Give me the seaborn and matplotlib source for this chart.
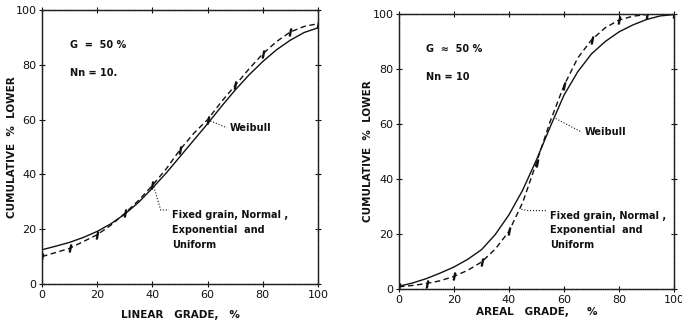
import matplotlib
matplotlib.use("Agg")
import matplotlib.pyplot as plt
import seaborn as sns
import pandas as pd

sns.set_theme(style="white")
plt.rcParams['font.family'] = ['DejaVu Sans']

# ---- data: left panel (linear grade) ----
grade5 = [0, 5, 10, 15, 20, 25, 30, 35, 40, 45, 50, 55, 60, 65, 70, 75, 80, 85, 90, 95, 100]
lin_weibull = [12.5, 13.8, 15.2, 17, 19.2, 22, 25.5, 29.8, 35, 40.5, 46.5, 52.5, 58.5, 64.8, 70.8, 76.3, 81.2, 85.5, 89, 91.8, 93.5]
lin_fixed = [10, 11.5, 13, 15.5, 18, 21.5, 25.8, 30.5, 36, 42, 49, 55, 60, 66.5, 72.5, 78.5, 84, 88.5, 92, 94, 95]
# ---- data: right panel (areal grade) ----
areal_weibull = [1, 2.2, 3.8, 5.8, 8, 10.8, 14.3, 19.8, 27, 36, 47, 59, 70.5, 79, 85.5, 90, 93.5, 96, 98, 99.3, 99.8]
areal_fixed = [0.8, 1.3, 2, 3, 4.6, 6.8, 9.8, 14.5, 21, 31.5, 46, 61, 74, 84, 90.6, 95, 97.8, 99.2, 99.8, 100, 100]

ticks = [0, 20, 40, 60, 80, 100]
tick_labels = ["0", "20", "40", "60", "80", "100"]

fig = plt.figure(figsize=(6.82, 3.30), dpi=100)
axL = fig.add_axes([42/682, 46/330, 276/682, 274/330])
axR = fig.add_axes([399/682, 41/330, 275/682, 275/330])

txt = dict(fontsize=7, fontweight='bold', color='#111111')

def panel(ax, weib, fixed, xlabel, xlab_y, ylab_x, g_text, nn_text, weib_ptr, weib_txt, fix_ptr, fix_txt):
    df = pd.DataFrame({'x': grade5, 'w': weib, 'f': fixed})
    sns.lineplot(data=df, x='x', y='w', ax=ax, color='#111111', lw=1.0)
    sns.lineplot(data=df, x='x', y='f', ax=ax, color='#111111', lw=1.0, dashes=False,
                 linestyle=(0, (4, 2.5)))
    dm = df.iloc[::2]
    ax.plot(dm['x'], dm['f'], linestyle='none', marker='$I$', markersize=5, color='#111111')
    ax.set_xlim(0, 100)
    ax.set_ylim(0, 100)
    ax.set_xticks(ticks)
    ax.set_xticklabels(tick_labels)
    ax.set_yticks(ticks)
    ax.set_yticklabels(tick_labels)
    ax.tick_params(direction='inout', length=4, width=0.8, labelsize=8, pad=2,
                   top=True, right=True, bottom=True, left=True, colors='#111111')
    for s in ax.spines.values():
        s.set_color('#222222')
        s.set_linewidth(1.0)
        s.set_linestyle((0, (1, 0.6)))
    ax.set_xlabel(xlabel, fontsize=7.5, fontweight='bold', color='#111111')
    ax.set_ylabel("CUMULATIVE  %  LOWER", fontsize=7.5, fontweight='bold', color='#111111')
    ax.xaxis.set_label_coords(0.5, xlab_y)
    ax.yaxis.set_label_coords(ylab_x, 0.5)
    ax.text(10, 86, g_text, **txt)
    ax.text(10, 76, nn_text, **txt)
    # Weibull label with dotted leader
    ax.plot([weib_ptr[0], weib_txt[0] - 1], [weib_ptr[1], weib_txt[1]], ls=':', lw=0.8, color='#111111')
    ax.text(weib_txt[0], weib_txt[1], "Weibull", va='center', **txt)
    # Fixed grain label with leader
    fx, fy = fix_ptr
    tx, ty = fix_txt
    ax.plot([fx, fx + 2.5, tx - 1], [fy, ty, ty], ls=':', lw=0.8, color='#111111')
    ax.text(tx, ty, "Fixed grain, Normal ,\nExponential  and\nUniform", va='top',
            linespacing=1.6, **txt)

panel(axL, lin_weibull, lin_fixed, "LINEAR   GRADE,   %", -0.095, -0.09, "G  =  50 %", "Nn = 10.",
      (61, 59.5), (68, 57), (40.5, 35.5), (47, 27))
panel(axR, areal_weibull, areal_fixed, "AREAL   GRADE,     %", -0.065, -0.095, "G  \u2248  50 %", "Nn = 10",
      (57, 62), (67.5, 57), (44.5, 29), (55, 28.5))

fig.savefig("out.png", dpi=100)
